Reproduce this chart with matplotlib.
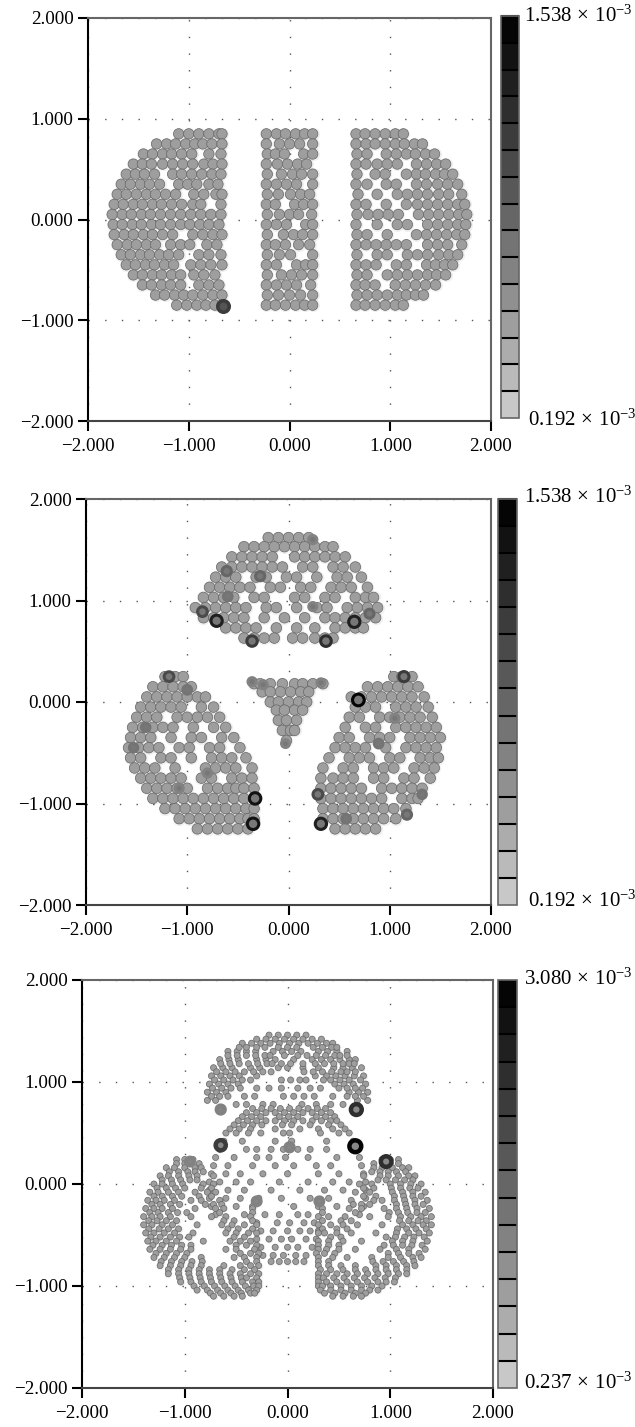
import numpy as np
import matplotlib
matplotlib.use("Agg")
import matplotlib.pyplot as plt
from matplotlib.colors import ListedColormap, BoundaryNorm
from matplotlib.cm import ScalarMappable

plt.rcParams['font.family'] = ['Liberation Serif', 'DejaVu Serif']
plt.rcParams['mathtext.fontset'] = 'custom'
plt.rcParams['mathtext.rm'] = 'Liberation Serif'
plt.rcParams['mathtext.it'] = 'Liberation Serif'
plt.rcParams['mathtext.fallback'] = 'stix'
plt.rcParams['axes.unicode_minus'] = True

W, H = 635, 1427

tick_values = [-2, -1, 0, 1, 2]
tick_labels = ['\u22122.000', '\u22121.000', '0.000', '1.000', '2.000']

# rows are (y, [x, x, ...]) in hundredths
p1_left = [
    (85, [-110, -100, -90, -80, -70, -67]),
    (75, [-132, -122, -113, -103, -94, -86, -77, -67]),
    (65, [-145, -136, -126, -117, -107, -97, -80, -68]),
    (55, [-155, -146, -137, -126, -116, -106, -96, -85, -76, -67]),
    (45, [-162, -153, -144, -134, -116, -107, -97, -87, -77, -68]),
    (35, [-167, -158, -148, -139, -129, -110, -101, -92, -80, -71]),
    (25, [-171, -162, -152, -142, -133, -123, -113, -95, -85, -73, -67]),
    (15, [-174, -165, -155, -146, -136, -127, -117, -107, -96, -88, -68]),
    (5, [-176, -166, -157, -147, -138, -128, -118, -108, -98, -88, -78, -68]),
    (-5, [-175, -166, -156, -147, -137, -128, -118, -108, -99, -89, -80, -70]),
    (-15, [-174, -164, -155, -145, -136, -126, -116, -96, -86, -76, -67]),
    (-25, [-171, -161, -152, -142, -133, -118, -108, -99, -82, -72]),
    (-35, [-167, -158, -148, -139, -129, -120, -110, -90, -80, -68]),
    (-45, [-162, -153, -143, -134, -124, -115, -98, -88, -78, -67]),
    (-55, [-155, -146, -136, -127, -117, -108, -95, -85, -74]),
    (-65, [-146, -137, -127, -118, -108, -90, -80, -70]),
    (-75, [-133, -124, -114, -105, -96, -86, -76, -67]),
    (-85, [-112, -102, -92, -83, -74, -67]),
]
p1_mid = [
    (85, [-23, -13, -4, 6, 15, 23]),
    (75, [-23, -10, 0, 10, 23]),
    (65, [-22, -14, -5, 14, 23]),
    (55, [-23, -12, -2, 8, 17]),
    (45, [-22, -8, 3, 12, 23]),
    (35, [-23, -13, -3, 7, 23]),
    (25, [-22, -11, 1, 11, 20]),
    (15, [-23, -14, 5, 14, 23]),
    (5, [-22, -10, 0, 9, 22]),
    (-5, [-23, -13, -3, 16, 23]),
    (-15, [-22, -6, 4, 13, 23]),
    (-25, [-23, -14, -4, 9, 20]),
    (-35, [-22, -10, 1, 23]),
    (-45, [-23, -13, 7, 16, 23]),
    (-55, [-22, -8, 2, 12, 23]),
    (-65, [-23, -13, -3, 7, 21]),
    (-75, [-22, -11, 0, 11, 23]),
    (-85, [-23, -14, -4, 6, 15, 23]),
]
p1_right = [
    (85, [66, 75, 85, 95, 105, 113]),
    (75, [66, 76, 85, 95, 105, 114, 124, 132]),
    (65, [67, 77, 96, 106, 116, 125, 135, 144]),
    (55, [66, 76, 87, 97, 107, 126, 136, 146, 155]),
    (45, [67, 85, 95, 116, 126, 135, 145, 154, 162]),
    (35, [66, 77, 96, 106, 126, 136, 147, 157, 167]),
    (25, [68, 87, 107, 117, 127, 137, 148, 158, 171]),
    (15, [66, 76, 96, 116, 127, 137, 147, 157, 167, 174]),
    (5, [67, 78, 88, 98, 108, 128, 138, 148, 158, 168, 176]),
    (-5, [66, 87, 107, 117, 137, 147, 157, 167, 175]),
    (-15, [67, 77, 97, 126, 136, 146, 156, 166, 174]),
    (-25, [66, 76, 86, 96, 106, 116, 137, 147, 157, 171]),
    (-35, [67, 87, 97, 117, 127, 137, 148, 158, 167]),
    (-45, [66, 76, 86, 106, 116, 136, 145, 154, 162]),
    (-55, [67, 77, 97, 107, 117, 127, 137, 146, 155]),
    (-65, [66, 75, 85, 105, 115, 125, 135, 145]),
    (-75, [67, 77, 87, 97, 107, 116, 125, 133]),
    (-85, [66, 75, 85, 95, 105, 113]),
]
p1_dark_x = [-0.66]
p1_dark_y = [-0.86]
p1_dark_v = [1.15e-3]

p2_top = [
    (162, [-20, -10, 0, 10, 20]),
    (153, [-44, -34, -24, -14, -4, 6, 16, 26, 36, 44]),
    (143, [-56, -46, -36, -26, -16, 6, 16, 26, 36, 46, 56]),
    (133, [-66, -56, -46, -36, -26, -16, -6, 14, 24, 44, 54, 66]),
    (123, [-72, -62, -52, -32, -22, -2, 8, 28, 48, 58, 72]),
    (113, [-78, -68, -58, -48, -38, -18, -8, 12, 22, 42, 52, 62, 78]),
    (103, [-84, -74, -64, -54, -34, -24, 6, 16, 36, 46, 66, 76, 84]),
    (93, [-92, -82, -72, -62, -52, -42, -22, -12, 8, 28, 38, 58, 68, 78, 88]),
    (83, [-84, -74, -64, -54, -44, -24, -4, 16, 36, 46, 56, 66, 76, 86]),
    (73, [-62, -52, -42, -32, -12, 8, 26, 46, 56, 66, 74]),
    (63, [-44, -34, -24, -14, 4, 14, 26, 36, 44]),
]
p2_left = [
    (25, [-122, -112, -104]),
    (15, [-134, -124, -114, -104, -96]),
    (5, [-140, -130, -120, -110, -100, -90, -82]),
    (-5, [-146, -136, -126, -116, -106, -86, -74]),
    (-15, [-150, -140, -130, -110, -100, -90, -80, -68]),
    (-25, [-154, -144, -134, -124, -114, -94, -74, -62]),
    (-35, [-156, -146, -136, -116, -96, -86, -66, -54]),
    (-45, [-158, -148, -138, -128, -108, -98, -78, -68, -48]),
    (-55, [-156, -146, -126, -116, -96, -76, -66, -56, -42]),
    (-65, [-152, -142, -132, -112, -82, -72, -62, -52, -36]),
    (-75, [-146, -136, -126, -116, -106, -86, -76, -56, -46, -36]),
    (-85, [-140, -130, -120, -110, -100, -80, -70, -60, -52, -44, -34]),
    (-95, [-134, -124, -114, -104, -94, -84, -74, -64, -54, -44, -34]),
    (-105, [-122, -112, -102, -92, -82, -72, -62, -52, -42, -34]),
    (-115, [-108, -98, -88, -78, -68, -58, -48, -40, -34]),
    (-125, [-90, -80, -70, -60, -50, -40]),
]
p2_right = [
    (25, [104, 112, 122]),
    (15, [78, 88, 98, 108, 118, 128]),
    (5, [62, 72, 82, 92, 102, 112, 122, 134]),
    (-5, [66, 76, 86, 106, 116, 126, 138]),
    (-15, [60, 70, 90, 100, 110, 120, 130, 142]),
    (-25, [56, 76, 86, 106, 116, 126, 136, 146]),
    (-35, [50, 60, 80, 90, 100, 120, 130, 140, 150]),
    (-45, [46, 56, 66, 76, 96, 116, 126, 136, 146]),
    (-55, [40, 60, 70, 80, 100, 110, 130, 140, 148]),
    (-65, [34, 54, 64, 84, 94, 104, 124, 134, 144]),
    (-75, [32, 44, 54, 64, 84, 94, 114, 124, 140]),
    (-85, [32, 42, 52, 62, 72, 92, 102, 112, 122, 132]),
    (-95, [32, 42, 52, 62, 72, 82, 92, 112, 122, 128]),
    (-105, [34, 44, 54, 64, 74, 84, 94, 104, 116]),
    (-115, [34, 44, 54, 64, 74, 84, 94, 106]),
    (-125, [46, 56, 66, 76, 86]),
]
p2_center = [
    (18, [-34, -28, -18, -6, 6, 14, 24, 34]),
    (10, [-26, -18, -8, 2, 12, 20]),
    (0, [-18, -10, 0, 10, 18]),
    (-8, [-12, -4, 6, 14]),
    (-18, [-10, -2, 8]),
    (-28, [-6, 2, 6]),
    (-38, [-2]),
]
p2_dark_x = [-0.85, -0.71, -0.36, 0.37, 0.65, 0.8, -0.28, -0.61, -0.6, 0.24, 0.24, -1.18, -1.0, -1.41, -1.53,
             -0.8, -1.08, -0.33, -0.35, 0.69, 1.14, 1.05, 0.89, 0.32, 0.29, 1.17, 1.32, 0.57, -0.36, -0.25,
             0.32, -0.03]
p2_dark_y = [0.89, 0.8, 0.6, 0.6, 0.79, 0.87, 1.24, 1.29, 1.04, 0.94, 1.6, 0.25, 0.12, -0.25, -0.45,
             -0.7, -0.85, -0.95, -1.2, 0.02, 0.25, -0.16, -0.41, -1.2, -0.91, -1.11, -0.91, -1.15, 0.2, 0.17,
             0.19, -0.41]
p2_dark_v = [1.0e-3, 1.35e-3, 1.15e-3, 1.2e-3, 1.35e-3, 0.85e-3, 0.9e-3, 0.9e-3, 0.8e-3, 0.7e-3, 0.7e-3, 1.0e-3,
             0.8e-3, 0.75e-3, 0.75e-3, 0.7e-3, 0.7e-3, 1.4e-3, 1.4e-3, 1.45e-3, 1.1e-3, 0.7e-3, 0.8e-3, 1.35e-3,
             1.0e-3, 0.9e-3, 0.75e-3, 0.8e-3, 0.7e-3, 0.7e-3, 0.65e-3, 0.65e-3]

p3_top = [
    (146, [-18, -9, 0, 9, 18]),
    (138, [-44, -35, -26, -17, -8, 2, 11, 20, 29, 38, 44]),
    (130, [-58, -49, -40, -31, -14, -5, 4, 13, 30, 39, 48, 58]),
    (122, [-66, -57, -48, -30, -21, -12, 6, 24, 33, 42, 51, 60, 66]),
    (114, [-72, -63, -54, -36, -27, -9, 0, 15, 30, 45, 54, 63, 72]),
    (106, [-74, -65, -56, -47, -30, 27, 38, 47, 56, 65, 74]),
    (98, [-76, -67, -58, -48, 46, 55, 64, 76]),
    (90, [-78, -69, -60, 60, 69, 78]),
    (82, [-78, -70, 68, 78]),
    (142, [-30, -21, -12, -3, 6, 15, 24, 33]),
    (134, [-47, -40, -30, -22, -9, 0, 9, 25, 34, 43, 48]),
    (126, [-58, -49, -40, -31, -22, -17, -3, 10, 19, 28, 37, 46, 51, 58]),
    (118, [-65, -56, -47, -38, -29, -20, -15, -6, 3, 15, 27, 36, 45, 54, 60, 65]),
    (110, [-69, -60, -51, -42, -33, -24, -16, 16, 25, 34, 43, 52, 58, 66]),
    (102, [-71, -62, -53, -44, -36, 35, 42, 51, 60, 71]),
    (94, [-73, -64, -55, -46, 50, 58, 66, 73]),
    (86, [-74, -66, -58, 58, 66, 74]),
]
p3_gap = [
    (102, [-6, 3, 12, 18]),
    (94, [-30, -18, -6, 10, 22, 32]),
    (86, [-42, -32, -4, 6, 16, 26, 44]),
    (78, [-50, -40, -24, -14, 14, 28, 42, 54]),
]
p3_rim = [
    (74, [-34, -25, -16, -7, 2, 11, 20, 29, 37]),
    (70, [-40, -30, -21, -12, -3, 6, 15, 24, 33, 42]),
    (66, [-44, -35, -26, -8, 1, 10, 28, 37, 46]),
    (62, [-48, -39, -30, -21, -12, -3, 6, 15, 24, 33, 42, 48]),
    (58, [-52, -43, -34, -25, -5, 4, 22, 40, 52]),
    (54, [-56, -47, -36, -12, 12, 30, 44, 56]),
    (50, [-60, -50, -38, -26, -4, 2, 32, 50, 60]),
    (42, [-62, -44, -12, 4, 38, 64]),
    (34, [-66, -40, -30, -16, -4, 10, 22, 38, 66]),
    (26, [-70, -52, -30, -18, -2, 20, 48, 70]),
    (18, [-72, -58, -34, -12, 6, 28, 42, 72]),
    (10, [-74, -60, -46, -24, 0, 30, 50, 74]),
    (2, [-76, -66, -50, -36, -8, 20, 44, 60, 76]),
    (-6, [-76, -58, -42, -16, 12, 36, 54, 76]),
    (-14, [-76, -60, -46, -28, -6, 22, 40, 76]),
    (-22, [-74, -50, -34, 6, 30, 48, 74]),
    (-30, [-70, -42, -22, -8, 10, 20, 70]),
    (-38, [-30, -10, 2, 16, 26]),
    (-46, [-26, -14, 0, 12, 22, 30]),
    (-54, [-30, -18, -6, 4, 18, 28]),
    (-62, [-26, -12, 0, 10, 24]),
    (-70, [-24, -14, -4, 8, 18]),
    (-76, [-16, -8, 0, 8, 16]),
]
p3_left = [
    (24, [-108, -100, -92]),
    (20, [-108, -100, -93, -86]),
    (16, [-118, -110, -100, -90, -84]),
    (12, [-115, -106, -97, -90, -82]),
    (8, [-124, -116, -106, -96, -88, -72]),
    (4, [-122, -113, -104, -95, -88]),
    (0, [-130, -122, -112, -102, -82, -72]),
    (-4, [-127, -118, -109, -100, -84, -74]),
    (-8, [-134, -126, -116, -106, -90, -78, -70]),
    (-12, [-130, -122, -112, -103, -86, -74]),
    (-16, [-136, -128, -120, -110, -94, -84, -66]),
    (-20, [-132, -124, -114, -105, -80, -72, -64]),
    (-24, [-138, -130, -122, -112, -90, -70, -62, -34]),
    (-28, [-134, -126, -116, -107, -98, -66, -34]),
    (-32, [-140, -132, -124, -114, -94, -74, -60, -36]),
    (-36, [-135, -127, -118, -108, -62, -52, -34]),
    (-40, [-140, -132, -122, -112, -88, -64, -54, -42, -30]),
    (-44, [-135, -125, -116, -106, -58, -48, -34]),
    (-48, [-138, -130, -120, -110, -92, -60, -50, -38, -30]),
    (-52, [-133, -124, -114, -105, -96, -52, -42]),
    (-56, [-136, -128, -118, -108, -82, -56, -46, -36]),
    (-60, [-131, -122, -113, -103, -94, -50, -40, -30]),
    (-64, [-134, -124, -114, -104, -94, -60, -50, -32]),
    (-68, [-128, -118, -108, -98, -46, -36, -28]),
    (-72, [-130, -120, -110, -100, -84, -52, -42, -30]),
    (-76, [-123, -113, -103, -93, -83, -40, -30]),
    (-80, [-124, -114, -104, -94, -84, -62, -46, -36, -28]),
    (-84, [-116, -106, -96, -86, -76, -66, -54, -42, -32]),
    (-88, [-116, -106, -96, -86, -76, -66, -56, -46, -36, -28]),
    (-92, [-105, -95, -85, -75, -65, -55, -45, -40, -30]),
    (-96, [-104, -94, -84, -74, -64, -54, -44, -34, -28]),
    (-100, [-91, -81, -71, -61, -51, -41, -33, -28]),
    (-104, [-88, -78, -68, -58, -48, -38, -30]),
    (-107, [-75, -65, -55, -45, -36, -32]),
    (-110, [-72, -62, -52, -44]),
]
p3_right = [
    (24, [92, 100, 108]),
    (20, [84, 93, 100, 108]),
    (16, [84, 92, 102, 112, 118]),
    (12, [82, 90, 98, 106, 115]),
    (8, [74, 90, 98, 108, 118, 124]),
    (4, [88, 96, 105, 114, 122]),
    (0, [70, 82, 100, 110, 120, 130]),
    (-4, [74, 84, 101, 110, 119, 127]),
    (-8, [66, 80, 102, 112, 122, 134]),
    (-12, [74, 86, 104, 113, 122, 130]),
    (-16, [62, 84, 92, 104, 114, 124, 136]),
    (-20, [64, 72, 80, 106, 115, 124, 132]),
    (-24, [34, 60, 72, 94, 106, 116, 126, 138]),
    (-28, [34, 66, 99, 108, 117, 126, 134]),
    (-32, [30, 40, 56, 80, 98, 110, 120, 130, 140]),
    (-36, [34, 52, 62, 109, 118, 127, 135]),
    (-40, [30, 42, 54, 68, 92, 112, 122, 132, 140]),
    (-44, [34, 48, 58, 107, 116, 125, 135]),
    (-48, [30, 36, 48, 62, 86, 106, 118, 128, 138]),
    (-52, [42, 52, 96, 105, 114, 123, 133]),
    (-56, [30, 40, 54, 72, 102, 112, 122, 136]),
    (-60, [30, 40, 50, 94, 103, 112, 121, 131]),
    (-64, [30, 38, 50, 66, 90, 106, 118, 134]),
    (-68, [28, 36, 46, 98, 108, 118, 128]),
    (-72, [30, 44, 58, 82, 98, 110, 122, 130]),
    (-76, [30, 40, 83, 93, 103, 113, 123]),
    (-80, [30, 40, 52, 66, 86, 96, 106, 116, 124]),
    (-84, [32, 42, 54, 66, 76, 86, 96, 106, 116]),
    (-88, [30, 38, 48, 58, 68, 78, 88, 98, 108, 116]),
    (-92, [30, 35, 45, 55, 65, 75, 85, 95, 105]),
    (-96, [30, 38, 48, 58, 68, 78, 88, 96, 104]),
    (-100, [30, 34, 42, 52, 62, 72, 82, 92]),
    (-104, [32, 42, 52, 62, 72, 80, 88]),
    (-107, [36, 46, 56, 66, 76]),
    (-110, [44, 54, 64, 72]),
]
p3_dark_x = [0.66, -0.65, 0.02, 0.96, -0.3, 0.31, 0.67, -0.65, -0.95]
p3_dark_y = [0.37, 0.38, 0.36, 0.22, -0.17, -0.17, 0.73, 0.73, 0.22]
p3_dark_v = [3.0e-3, 2.2e-3, 1.3e-3, 2.4e-3, 1.2e-3, 1.2e-3, 2.5e-3, 1.3e-3, 1.2e-3]

p1_base, p2_base, p3_base = 0.55e-3, 0.5e-3, 0.9e-3
p1_lims = (0.192e-3, 1.538e-3)
p2_lims = (0.192e-3, 1.538e-3)
p3_lims = (0.237e-3, 3.080e-3)
p1_labels = (r'$\mathrm{1.538\,\times\,10^{-3}}$', r'$\mathrm{0.192\,\times\,10^{-3}}$')
p2_labels = p1_labels
p3_labels = (r'$\mathrm{3.080\,\times\,10^{-3}}$', r'$\mathrm{0.237\,\times\,10^{-3}}$')

# 15 grey cells on the colour bar, light at the bottom
grey_cells = ['#c8c8c8', '#bababa', '#acacac', '#9e9e9e', '#909090', '#828282', '#747474', '#666666',
              '#585858', '#4a4a4a', '#3c3c3c', '#2e2e2e', '#202020', '#121212', '#050505']
cmap = ListedColormap(grey_cells)


def px_axes(fig, left, top, right, bottom):
    return fig.add_axes([left / W, 1 - bottom / H, (right - left) / W, (bottom - top) / H])


def rows_to_xy(rows):
    x, y = [], []
    for row_y, row_x in rows:
        x += [v / 100 for v in row_x]
        y += [row_y / 100] * len(row_x)
    return x, y


def panel(fig, rect, cbar_rect, groups, dark, base, lims, labels, top_lab, bot_lab, size, dark_size, dark_lw, dark_face):
    ax = px_axes(fig, *rect)
    bounds = np.linspace(lims[0], lims[1], len(grey_cells) + 1)
    norm = BoundaryNorm(bounds, cmap.N)

    ax.set_xlim(-2, 2)
    ax.set_ylim(-2, 2)
    ax.set_xticks(tick_values)
    ax.set_yticks(tick_values)
    ax.set_xticklabels(tick_labels)
    ax.set_yticklabels(tick_labels)
    ax.tick_params(length=7.5, width=1.5, labelsize=13.7, color='black')
    ax.tick_params(axis='x', pad=5)
    ax.tick_params(axis='y', pad=3)
    ax.grid(True, color='#555555', linewidth=1.0, linestyle=(0, (1, 11)))
    ax.set_axisbelow(True)
    for side in ['top', 'right']:
        ax.spines[side].set_color('#666666')
        ax.spines[side].set_linewidth(1.5)
    ax.spines['left'].set_linewidth(1.5)
    ax.spines['bottom'].set_color('#444444')
    ax.spines['bottom'].set_linewidth(1.5)

    for rows in groups:
        x, y = rows_to_xy(rows)
        c = [base] * len(x)
        # faint halo under the dots
        ax.scatter(x, y, s=size * 1.6, c='#000000', alpha=0.06, linewidths=0)
        ax.scatter(x, y, s=size, c=c, cmap=cmap, norm=norm, edgecolors='#666666', linewidths=0.5)

    dark_x, dark_y, dark_v = dark
    dark_s = [dark_size * v / lims[1] for v in dark_v]
    ax.scatter(dark_x, dark_y, s=dark_s, c=dark_face, edgecolors=[cmap(norm(v)) for v in dark_v], linewidths=dark_lw)

    cax = px_axes(fig, *cbar_rect)
    cb = fig.colorbar(ScalarMappable(norm=norm, cmap=cmap), cax=cax, drawedges=True, spacing='uniform')
    cb.set_ticks([])
    cb.minorticks_off()
    cb.outline.set_edgecolor('#666666')
    cb.outline.set_linewidth(1.2)
    cb.dividers.set_color('black')
    cb.dividers.set_linewidth(1.5)

    fig.text(top_lab[0] / W, 1 - top_lab[1] / H, labels[0], fontsize=15, va='center', ha='left')
    fig.text(bot_lab[0] / W, 1 - bot_lab[1] / H, labels[1], fontsize=15, va='center', ha='left')


fig = plt.figure(figsize=(W / 100, H / 100), dpi=100)

panel(fig, (88, 18, 491, 421), (501, 16, 519, 418), [p1_left, p1_mid, p1_right],
      (p1_dark_x, p1_dark_y, p1_dark_v), p1_base, p1_lims, p1_labels, (524, 16), (528, 420), 56, 90, 2.6, '#555555')
panel(fig, (86, 499, 491, 905), (498, 499, 517, 905), [p2_top, p2_left, p2_right, p2_center],
      (p2_dark_x, p2_dark_y, p2_dark_v), p2_base, p2_lims, p2_labels, (524, 497), (528, 901), 58, 75, 2.2, '#777777')
panel(fig, (82, 980, 493, 1388), (498, 980, 517, 1388), [p3_top, p3_gap, p3_rim, p3_left, p3_right],
      (p3_dark_x, p3_dark_y, p3_dark_v), p3_base, p3_lims, p3_labels, (524, 979), (524, 1383), 19, 75, 3.2, '#888888')

plt.savefig('out.png', dpi=100)
